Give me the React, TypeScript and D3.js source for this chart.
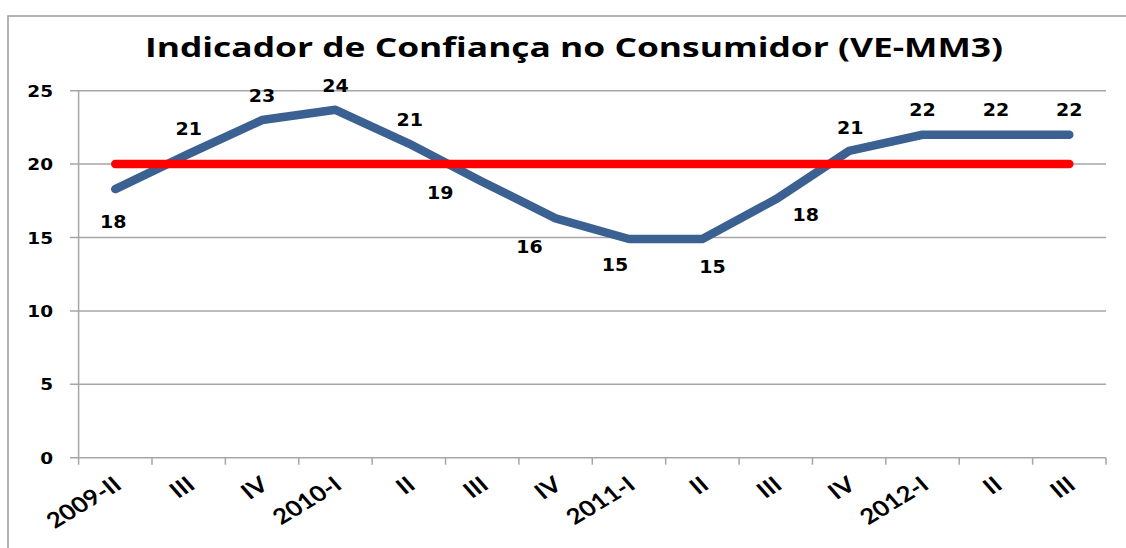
import React, { useEffect, useRef } from 'react';
import * as d3 from 'd3';

const title = 'Indicador de Confiança no Consumidor (VE-MM3)';
const categories = ['2009-II', 'III', 'IV', '2010-I', 'II', 'III', 'IV', '2011-I', 'II', 'III', 'IV', '2012-I', 'II', 'III'];
const confidence = [18.3, 20.7, 23.0, 23.7, 21.4, 18.8, 16.3, 14.9, 14.9, 17.6, 20.9, 22.0, 22.0, 22.0];
const threshold = [20, 20, 20, 20, 20, 20, 20, 20, 20, 20, 20, 20, 20, 20];
const yTicks = [0, 5, 10, 15, 20, 25];

// labels were dragged around by hand in the original, keep the nudges (px)
const labelNudge = [
  [-2, 33], [0, -25], [0, -24], [0, -24], [1, -24], [-42, 11], [-26, 29],
  [-14, 26], [10, 28], [30, 16], [1, -23], [0, -25], [0, -25], [0, -25],
];

const W = 1126;
const H = 548;
const SX = 1.12; // the source picture is a bit stretched sideways
const FONT = "'DejaVu Sans', Verdana, sans-serif";

const App = () => {
  const ref = useRef<SVGSVGElement>(null);

  useEffect(() => {
    const svg = d3.select(ref.current);
    svg.selectAll('*').remove();

    const idx = categories.map((_, i) => i);
    const x = d3.scaleBand<number>().domain(idx).range([78.6, 1106]).paddingInner(0).paddingOuter(0);
    const y = d3.scaleLinear().domain([0, 25]).range([457.7, 90.7]);
    const cx = (i: number) => (x(i) as number) + x.bandwidth() / 2;

    svg.append('rect').attr('width', W).attr('height', H).attr('fill', '#fff');

    // chart frame (runs off the right and bottom of the picture)
    svg.append('rect')
      .attr('x', 8).attr('y', 16).attr('width', W + 20).attr('height', H + 20)
      .attr('fill', 'none').attr('stroke', '#9c9c9c').attr('stroke-width', 1.5);

    svg.append('text')
      .attr('x', 145).attr('y', 57)
      .attr('textLength', 858).attr('lengthAdjust', 'spacingAndGlyphs')
      .style('font-family', "'Open Sans', sans-serif").style('font-weight', 700)
      .style('font-size', '26px').attr('fill', '#000')
      .text(title);

    // gridlines + y labels
    yTicks.forEach(t => {
      svg.append('line')
        .attr('x1', 70).attr('x2', 1106).attr('y1', y(t)).attr('y2', y(t))
        .attr('stroke', '#a6a6a6').attr('stroke-width', 1.5);
      svg.append('text')
        .attr('transform', `translate(53,${y(t) + 6}) scale(${SX},1)`)
        .attr('text-anchor', 'end')
        .style('font-family', FONT).style('font-weight', 700).style('font-size', '16.5px')
        .text(t);
    });

    svg.append('line')
      .attr('x1', 78.6).attr('x2', 78.6).attr('y1', y(25)).attr('y2', y(0))
      .attr('stroke', '#a6a6a6').attr('stroke-width', 1.5);

    // category ticks on the x axis
    d3.range(categories.length + 1).forEach(i => {
      const tx = 78.6 + i * x.step();
      svg.append('line')
        .attr('x1', tx).attr('x2', tx).attr('y1', y(0)).attr('y2', y(0) + 7)
        .attr('stroke', '#a6a6a6').attr('stroke-width', 1.5);
    });

    // rotated category labels look sheared in the source, so stretch a bit more
    categories.forEach((c, i) => {
      svg.append('text')
        .attr('transform', `translate(${cx(i) + 8},${y(0) + 30}) scale(1.2,1) rotate(-36)`)
        .attr('text-anchor', 'end')
        .style('font-family', "Lato, 'Open Sans', sans-serif").style('font-weight', 700).style('font-size', '21.5px')
        .text(c);
    });

    const line = d3.line<number>()
      .x((_, i) => cx(i))
      .y(d => y(d));

    svg.append('path')
      .datum(confidence)
      .attr('d', line)
      .attr('fill', 'none')
      .attr('stroke', '#3b6092')
      .attr('stroke-width', 8.5)
      .attr('stroke-linecap', 'round')
      .attr('stroke-linejoin', 'round');

    svg.append('path')
      .datum(threshold)
      .attr('d', line)
      .attr('fill', 'none')
      .attr('stroke', '#ff0000')
      .attr('stroke-width', 8.5)
      .attr('stroke-linecap', 'round');

    confidence.forEach((v, i) => {
      const [dx, dy] = labelNudge[i];
      svg.append('text')
        .attr('transform', `translate(${cx(i) + dx},${y(v) + dy + 6}) scale(${SX},1)`)
        .attr('text-anchor', 'middle')
        .style('font-family', FONT).style('font-weight', 700).style('font-size', '17px')
        .text(Math.round(v));
    });
  }, []);

  return (
    <svg ref={ref} width={W} height={H} style={{ position: 'absolute', left: 0, top: 0, display: 'block' }} />
  );
};

export default App;
